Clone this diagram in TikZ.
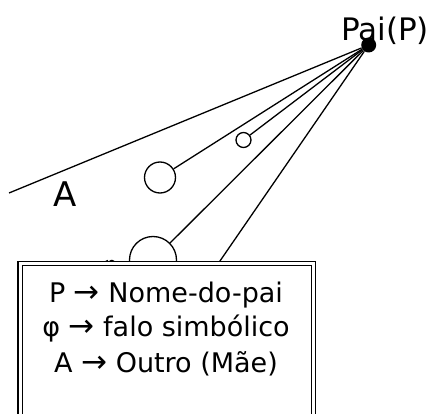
\documentclass[tikz,border=0pt]{standalone}
\usepackage{fontspec}
\setmainfont{DejaVu Sans}
\newcommand{\legarrow}{{\fontsize{31}{33}\selectfont →}}
\tikzset{
  ring/.style={circle, draw, line width=1.3pt, inner sep=0pt, fill=white},
  ray/.style={line width=1.3pt},
  legendtext/.style={anchor=base, font=\fontsize{27}{33}\selectfont}
}
\begin{document}
\begin{tikzpicture}[x=1pt, y=-1pt]
  \useasboundingbox (0,0) rectangle (434,414);
  \clip (0,0) rectangle (434,414);
  % Nodes
  \node (P) [circle, fill=black, inner sep=0pt, minimum size=15pt] at (368.7, 45) {};
  \node (pai) [anchor=base, font=\fontsize{31}{36}\selectfont] at (385, 41) {Pai(P)};
  \node (A) [anchor=base, font=\fontsize{34}{40}\selectfont] at (65, 207) {A};
  \node (small) [ring, minimum size=15pt] at (243.5, 140) {};
  \node (big) [ring, minimum size=31pt] at (160, 177.5) {};
  \node (half) [ring, minimum size=47pt] at (153, 260) {};
  \node (phi) [anchor=base, font=\fontsize{24}{28}\selectfont] at (110, 274) {φ};
  \coordinate (Aend) at (9, 193);
  \coordinate (hid) at (200, 290);
  % Lines
  \draw[ray] (P) -- (Aend);
  \draw[ray] (P) -- (small);
  \draw[ray] (P) -- (big);
  \draw[ray] (P) -- (half);
  \draw[ray] (P) -- (hid);
  % Legend
  \node (box) [draw, fill=white, line width=1.2pt, double, double distance=3pt,
    anchor=north west, minimum width=293.5pt, minimum height=170pt] at (19.5, 263) {};
  \node (l1) [legendtext] at (166, 302) {P \legarrow{} Nome-do-pai};
  \node (l2) [legendtext] at (166, 337) {φ \legarrow{} falo simbólico};
  \node (l3) [legendtext] at (166, 372) {A \legarrow{} Outro (Mãe)};
\end{tikzpicture}
\end{document}
